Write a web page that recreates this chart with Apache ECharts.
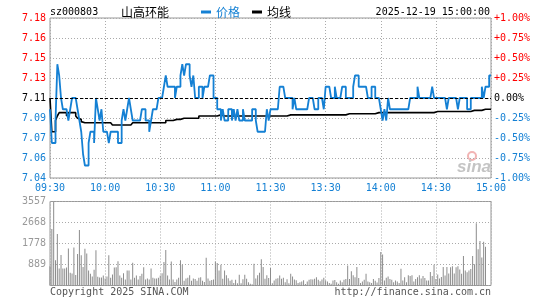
<!DOCTYPE html>
<html>
<head>
<meta charset="utf-8">
<script src="https://cdn.jsdelivr.net/npm/echarts@6/dist/echarts.min.js"></script>
<style>
html, body { margin: 0; padding: 0; background: #fff; }
#fenshi_chart { width: 545px; height: 300px; }
</style>
</head>
<body>
<div id="fenshi_chart"></div>
<script>
// 山高环能 分时图 sz000803
var preClose = 7.11 // 昨收
var timeTicks = ['09:30', '10:00', '10:30', '11:00', '11:30', '13:30', '14:00', '14:30', '15:00']
var priceTicks = ['7.04', '7.06', '7.07', '7.09', '7.11', '7.13', '7.15', '7.16', '7.18']
var pctTicks = ['-1.00%', '-0.75%', '-0.50%', '-0.25%', '0.00%', '+0.25%', '+0.50%', '+0.75%', '+1.00%']
var volTicks = ['', '889', '1778', '2668', '3557']
var volMax = 3557

// 每分钟价格
var prices = [
  7.10, 7.07, 7.07, 7.09, 7.14, 7.13, 7.11, 7.10, 7.10, 7.10,
  7.09, 7.10, 7.11, 7.11, 7.11, 7.10, 7.09, 7.08, 7.06, 7.05,
  7.05, 7.07, 7.08, 7.08, 7.07, 7.11, 7.10, 7.09, 7.10, 7.08,
  7.08, 7.08, 7.07, 7.08, 7.08, 7.08, 7.08, 7.07, 7.07, 7.09,
  7.10, 7.09, 7.10, 7.11, 7.10, 7.09, 7.09, 7.09, 7.09, 7.09,
  7.10, 7.10, 7.09, 7.09, 7.08, 7.09, 7.10, 7.10, 7.10, 7.11,
  7.11, 7.11, 7.12, 7.13, 7.12, 7.12, 7.12, 7.12, 7.11, 7.12,
  7.12, 7.13, 7.14, 7.13, 7.14, 7.14, 7.13, 7.12, 7.13, 7.11,
  7.11, 7.12, 7.12, 7.11, 7.12, 7.12, 7.12, 7.13, 7.13, 7.11,
  7.11, 7.10, 7.10, 7.09, 7.10, 7.09, 7.09, 7.10, 7.10, 7.09,
  7.10, 7.09, 7.10, 7.09, 7.09, 7.10, 7.09, 7.09, 7.09, 7.09,
  7.10, 7.10, 7.09, 7.08, 7.08, 7.08, 7.08, 7.08, 7.10, 7.09,
  7.10, 7.10, 7.10, 7.10, 7.10, 7.12, 7.12, 7.12, 7.11, 7.11,
  7.11, 7.11, 7.10, 7.11, 7.10, 7.10, 7.10, 7.10, 7.10, 7.10,
  7.10, 7.11, 7.11, 7.11, 7.10, 7.10, 7.11, 7.11, 7.11, 7.10,
  7.12, 7.12, 7.12, 7.11, 7.11, 7.12, 7.11, 7.11, 7.11, 7.12,
  7.12, 7.11, 7.11, 7.11, 7.11, 7.12, 7.13, 7.13, 7.12, 7.12,
  7.12, 7.12, 7.12, 7.11, 7.11, 7.12, 7.12, 7.11, 7.11, 7.11,
  7.10, 7.09, 7.10, 7.09, 7.11, 7.10, 7.10, 7.10, 7.10, 7.10,
  7.10, 7.10, 7.10, 7.10, 7.10, 7.10, 7.11, 7.11, 7.11, 7.11,
  7.12, 7.11, 7.11, 7.11, 7.11, 7.11, 7.11, 7.11, 7.12, 7.11,
  7.11, 7.11, 7.11, 7.11, 7.11, 7.11, 7.10, 7.11, 7.11, 7.11,
  7.11, 7.11, 7.10, 7.11, 7.11, 7.11, 7.11, 7.10, 7.10, 7.11,
  7.11, 7.11, 7.11, 7.11, 7.11, 7.12, 7.11, 7.12, 7.12, 7.13,
  7.13
]

// 均价线
var avgPrices = [
  7.110, 7.080, 7.080, 7.090, 7.094, 7.097, 7.097, 7.097, 7.097, 7.094,
  7.097, 7.097, 7.097, 7.097, 7.094, 7.092, 7.091, 7.089, 7.088, 7.088,
  7.088, 7.088, 7.088, 7.088, 7.088, 7.088, 7.088, 7.088, 7.088, 7.088,
  7.088, 7.088, 7.088, 7.088, 7.086, 7.086, 7.086, 7.086, 7.086, 7.086,
  7.086, 7.086, 7.086, 7.086, 7.086, 7.088, 7.088, 7.088, 7.088, 7.088,
  7.088, 7.088, 7.088, 7.088, 7.088, 7.088, 7.088, 7.088, 7.088, 7.088,
  7.088, 7.088, 7.088, 7.090, 7.090, 7.090, 7.090, 7.090, 7.091, 7.091,
  7.091, 7.091, 7.092, 7.092, 7.092, 7.092, 7.092, 7.092, 7.092, 7.092,
  7.092, 7.094, 7.094, 7.094, 7.094, 7.094, 7.094, 7.094, 7.094, 7.094,
  7.094, 7.095, 7.095, 7.095, 7.094, 7.094, 7.094, 7.094, 7.094, 7.094,
  7.094, 7.094, 7.094, 7.094, 7.094, 7.094, 7.094, 7.094, 7.094, 7.094,
  7.094, 7.094, 7.094, 7.094, 7.094, 7.094, 7.094, 7.094, 7.094, 7.094,
  7.094, 7.094, 7.094, 7.094, 7.094, 7.094, 7.094, 7.094, 7.094, 7.095,
  7.095, 7.095, 7.095, 7.095, 7.095, 7.095, 7.095, 7.095, 7.095, 7.095,
  7.095, 7.095, 7.095, 7.095, 7.095, 7.095, 7.095, 7.095, 7.095, 7.095,
  7.095, 7.095, 7.095, 7.095, 7.095, 7.095, 7.095, 7.095, 7.095, 7.095,
  7.095, 7.095, 7.096, 7.096, 7.096, 7.096, 7.096, 7.096, 7.096, 7.096,
  7.096, 7.096, 7.096, 7.096, 7.096, 7.096, 7.096, 7.097, 7.097, 7.097,
  7.097, 7.097, 7.097, 7.097, 7.097, 7.097, 7.097, 7.097, 7.097, 7.097,
  7.097, 7.097, 7.097, 7.097, 7.097, 7.097, 7.097, 7.097, 7.097, 7.097,
  7.097, 7.097, 7.097, 7.097, 7.097, 7.097, 7.097, 7.097, 7.097, 7.097,
  7.098, 7.098, 7.098, 7.098, 7.098, 7.098, 7.098, 7.098, 7.098, 7.098,
  7.098, 7.098, 7.098, 7.098, 7.098, 7.098, 7.098, 7.098, 7.098, 7.099,
  7.099, 7.099, 7.099, 7.099, 7.099, 7.100, 7.100, 7.100, 7.100, 7.100,
  7.100
]

// 成交量(手)
var volumes = [
  820, 2390, 3557, 1070, 2180, 720, 1290, 720, 720, 760,
  1570, 540, 510, 1610, 440, 1330, 2350, 1280, 780, 1560,
  1350, 640, 500, 380, 670, 1490, 370, 340, 340, 420,
  300, 380, 1280, 330, 470, 760, 770, 1030, 420, 330,
  520, 250, 640, 640, 250, 960, 330, 420, 250, 400,
  500, 770, 250, 300, 250, 720, 330, 300, 300, 330,
  420, 520, 1000, 1500, 420, 250, 1020, 250, 150, 250,
  330, 1070, 880, 200, 300, 330, 430, 200, 300, 270,
  200, 330, 350, 200, 150, 1170, 300, 200, 230, 250,
  1020, 950, 640, 880, 290, 640, 430, 310, 200, 240,
  110, 240, 90, 460, 90, 260, 460, 290, 140, 70,
  50, 920, 300, 430, 540, 1110, 780, 290, 430, 320,
  740, 100, 210, 290, 310, 420, 290, 330, 140, 260,
  100, 500, 380, 250, 220, 110, 140, 170, 220, 60,
  170, 240, 260, 250, 290, 350, 240, 180, 250, 330,
  210, 170, 110, 70, 210, 230, 140, 70, 210, 140,
  240, 280, 850, 280, 600, 430, 350, 780, 320, 110,
  170, 240, 500, 170, 140, 110, 280, 200, 130, 320,
  1420, 1310, 210, 330, 380, 280, 240, 140, 210, 170,
  110, 710, 210, 350, 140, 430, 400, 430, 170, 280,
  350, 430, 300, 400, 320, 210, 210, 570, 400, 880,
  280, 470, 300, 360, 780, 420, 780, 510, 770, 810,
  510, 770, 810, 680, 500, 1250, 640, 560, 640, 700,
  1250, 900, 2640, 1530, 1880, 1190, 1850, 1640, 0, 0,
  0
]

var blue = '#1480d4'
var red = '#ff0000'
var gridGray = '#aaa'
var mono = 'DejaVu Sans Mono'
var cjk = 'Noto Sans CJK SC'

var pct = function (p) {
  return ((p - preClose) / preClose) * 100
}
var priceData = []
var avgData = []
var volData = []
for (let i = 0; i < prices.length; i++) {
  priceData.push([i, pct(prices[i])])
  avgData.push([i, pct(avgPrices[i])])
  volData.push([i, volumes[i]])
}
function pctIndex(v) {
  return Math.round((Number(v) + 1) / 0.25)
}
function tickColor(v) {
  var k = pctIndex(v)
  return k < 4 ? blue : k > 4 ? red : '#000'
}

var fenshi_chart = echarts.init(document.getElementById('fenshi_chart'))
var fenshi_option = {
  animation: false,
  legend: {
    left: 196,
    top: 1,
    icon: 'rect',
    itemWidth: 10,
    itemHeight: 3,
    itemGap: 12,
    textStyle: { fontSize: 12, fontFamily: cjk },
    data: [
      { name: '价格', textStyle: { color: blue } },
      { name: '均线', textStyle: { color: '#000' } },
    ],
  },
  grid: [
    { left: 50, top: 18, width: 441, height: 160, show: true, borderColor: '#999', borderWidth: 1 },
    { left: 50, top: 201.5, width: 441, height: 84, show: true, borderColor: '#999', borderWidth: 1 },
  ],
  xAxis: [
    {
      type: 'value',
      gridIndex: 0,
      min: 0,
      max: 240,
      interval: 30,
      axisLine: { show: false },
      axisTick: { show: false },
      axisLabel: {
        color: blue,
        fontFamily: mono,
        fontSize: 10,
        margin: 5,
        formatter: function (v) {
          return timeTicks[Math.round(v / 30)]
        },
      },
      splitLine: { show: true, lineStyle: { color: gridGray, type: [1, 2] } },
    },
    {
      type: 'value',
      gridIndex: 1,
      min: 0,
      max: 240,
      interval: 30,
      axisLine: { show: false },
      axisTick: { show: false },
      axisLabel: { show: false },
      splitLine: { show: true, lineStyle: { color: gridGray, type: [1, 2] } },
    },
  ],
  yAxis: [
    {
      type: 'value',
      gridIndex: 0,
      position: 'left',
      min: -1,
      max: 1,
      interval: 0.25,
      axisLine: { show: false },
      axisTick: { show: false },
      axisLabel: {
        margin: 4,
        fontFamily: mono,
        fontSize: 10,
        color: tickColor,
        formatter: function (v) {
          return priceTicks[pctIndex(v)]
        },
      },
      splitLine: { show: true, lineStyle: { color: gridGray, type: [1, 2] } },
    },
    {
      type: 'value',
      gridIndex: 0,
      position: 'right',
      min: -1,
      max: 1,
      interval: 0.25,
      axisLine: { show: false },
      axisTick: { show: false },
      axisLabel: {
        margin: 3,
        fontFamily: mono,
        fontSize: 10,
        color: tickColor,
        formatter: function (v) {
          return pctTicks[pctIndex(v)]
        },
      },
      splitLine: { show: false },
    },
    {
      type: 'value',
      gridIndex: 1,
      min: 0,
      max: volMax,
      interval: volMax / 4,
      axisLine: { show: false },
      axisTick: { show: false },
      axisLabel: {
        margin: 4,
        fontFamily: mono,
        fontSize: 10,
        color: '#999',
        formatter: function (v) {
          return volTicks[Math.round(v / (volMax / 4))]
        },
      },
      splitLine: { show: true, lineStyle: { color: gridGray, type: [1, 2] } },
    },
  ],
  graphic: [
    { type: 'text', x: 50, y: 12, style: { text: 'sz000803', font: '10px ' + mono, fill: '#000', textVerticalAlign: 'middle', verticalAlign: 'middle' } },
    { type: 'text', x: 121, y: 12, style: { text: '山高环能', font: '12px "' + cjk + '"', fill: '#000', textVerticalAlign: 'middle', verticalAlign: 'middle' } },
    {
      type: 'text',
      x: 490,
      y: 12,
      style: { text: '2025-12-19 15:00:00', font: '10px ' + mono, fill: '#000', textAlign: 'right', align: 'right', textVerticalAlign: 'middle', verticalAlign: 'middle' },
    },
    { type: 'text', x: 50, y: 292, style: { text: 'Copyright 2025 SINA.COM', font: '10px ' + mono, fill: '#555', textVerticalAlign: 'middle', verticalAlign: 'middle' } },
    {
      type: 'text',
      x: 491,
      y: 292,
      style: { text: 'http://finance.sina.com.cn', font: '10px ' + mono, fill: '#555', textAlign: 'right', align: 'right', textVerticalAlign: 'middle', verticalAlign: 'middle' },
    },
    // sina 水印
    { type: 'circle', shape: { cx: 472, cy: 156, r: 4 }, style: { fill: 'none', stroke: '#f2b4b4', lineWidth: 2 } },
    {
      type: 'text',
      x: 474,
      y: 167,
      style: { text: 'sina', font: 'italic bold 17px Arial', fill: '#c4c4c4', textAlign: 'center', align: 'center', textVerticalAlign: 'middle', verticalAlign: 'middle' },
    },
  ],
  series: [
    {
      name: '价格',
      type: 'line',
      xAxisIndex: 0,
      yAxisIndex: 0,
      step: 'end',
      showSymbol: false,
      color: blue,
      lineStyle: { width: 1.8, color: blue },
      data: priceData,
      z: 4,
      markLine: {
        silent: true,
        symbol: 'none',
        label: { show: false },
        lineStyle: { color: '#000', type: [3, 2], width: 1 },
        data: [{ yAxis: 0 }],
      },
    },
    {
      name: '均线',
      type: 'line',
      xAxisIndex: 0,
      yAxisIndex: 0,
      step: 'end',
      showSymbol: false,
      color: '#000',
      lineStyle: { width: 1.6, color: '#000' },
      data: avgData,
      z: 3,
    },
    {
      name: '成交量',
      type: 'bar',
      xAxisIndex: 1,
      yAxisIndex: 2,
      barWidth: 1,
      itemStyle: { color: '#8c8c8c' },
      data: volData,
    },
  ],
}
fenshi_chart.setOption(fenshi_option)
</script>
</body>
</html>
